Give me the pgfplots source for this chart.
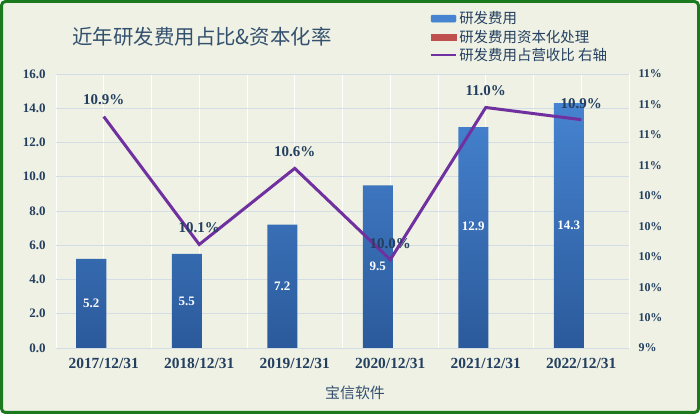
\documentclass[border=0pt]{standalone}
\usepackage{pgfplots}
\pgfplotsset{compat=1.18}
\usepackage{fontspec}
\setmainfont{Liberation Serif}
\newfontfamily\cjk{Noto Sans CJK SC}
\definecolor{bg}{HTML}{EEF1E3}
\definecolor{frame}{HTML}{1B7A1E}
\definecolor{navy}{HTML}{243F60}
\definecolor{titlec}{HTML}{34506F}
\definecolor{gridc}{HTML}{D3DDE5}
\definecolor{bartop}{HTML}{4683D0}
\definecolor{barbot}{HTML}{2B5A9B}
\definecolor{lineC}{HTML}{7030A0}
\definecolor{redC}{HTML}{C0504D}
\begin{document}
\begin{tikzpicture}
\useasboundingbox (0,0) rectangle (700bp,414bp);
\fill[bg, rounded corners=5bp] (0,0) rectangle (700bp,414bp);
\draw[frame, line width=3bp, rounded corners=4bp] (1.5bp,1.5bp) rectangle (698.5bp,412.5bp);
\node[anchor=west, text=titlec, font=\cjk\fontsize{20.5}{23}\selectfont] at (69bp,377bp) {近年研发费用占比\&资本化率};
\node[text=titlec, font=\cjk\fontsize{15}{17}\selectfont] at (355bp,21bp) {宝信软件};
\begin{axis}[
  at={(56bp,66bp)}, anchor=south west, scale only axis,
  width=573bp, height=274bp,
  xmin=-0.5, xmax=5.5, ymin=0, ymax=16,
  ytick={0,2,...,16},
  xtick={0,1,2,3,4,5},
  xticklabels={2017/12/31,2018/12/31,2019/12/31,2020/12/31,2021/12/31,2022/12/31},
  minor xtick={-0.5,0.5,1.5,2.5,3.5,4.5,5.5},
  xmajorgrids, xminorgrids, ymajorgrids,
  major grid style={gridc, line width=0.8bp},
  minor grid style={gridc, line width=0.8bp},
  x grid style={white, line width=0.9bp},
  axis line style={draw=none},
  major tick length=0pt, minor tick length=0pt,
  yticklabel style={font=\bfseries\fontsize{13}{13}\selectfont, text=navy, xshift=-7bp},
  xticklabel style={font=\bfseries\fontsize{15.5}{15.5}\selectfont, text=navy, yshift=-7bp},
  /pgf/number format/.cd, fixed, fixed zerofill, precision=1, assume math mode=true,
]
\addplot[ybar, bar width=30bp, bar shift=-12.5bp, draw=none, top color=bartop, bottom color=barbot]
  coordinates {(0,5.2) (1,5.5) (2,7.2) (3,9.5) (4,12.9) (5,14.3)};
\addplot[draw=none, mark=none, nodes near coords, point meta=explicit symbolic,
  nodes near coords style={anchor=center, xshift=-12.5bp, text=white, font=\bfseries\fontsize{13}{13}\selectfont}]
  coordinates {(0,2.6)[5.2] (1,2.75)[5.5] (2,3.6)[7.2] (3,4.75)[9.5] (4,7.1)[12.9] (5,7.15)[14.3]};
\end{axis}
\begin{axis}[
  at={(56bp,66bp)}, anchor=south west, scale only axis,
  width=573bp, height=274bp,
  xmin=-0.5, xmax=5.5, ymin=9.4, ymax=11.2,
  axis y line*=right, axis x line=none,
  axis line style={draw=none},
  major tick length=0pt,
  ytick={9.4,9.6,9.8,10.0,10.2,10.4,10.6,10.8,11.0,11.2},
  yticklabels={9\%,10\%,10\%,10\%,10\%,10\%,11\%,11\%,11\%,11\%},
  yticklabel style={font=\bfseries\fontsize{12}{12}\selectfont, text=navy, xshift=6bp},
  legend style={at={(rel axis cs:0.652,1.235)}, anchor=north west, draw=none, fill=none,
    font=\cjk\fontsize{14.5}{17}\selectfont, text=navy, row sep=0.5bp, inner sep=0pt,
    legend cell align=left},
]
\addlegendimage{legend image code/.code={\fill[bartop, rounded corners=1bp] (0bp,-3.5bp) rectangle (25bp,3.5bp);}}
\addlegendentry{研发费用}
\addlegendimage{legend image code/.code={\fill[redC] (0bp,-3bp) rectangle (25bp,3bp);}}
\addlegendentry{研发费用资本化处理}
\addplot[lineC, line width=3bp, mark=none, nodes near coords, point meta=explicit symbolic,
  legend image code/.code={\draw[lineC, line width=2.5bp] (0bp,0bp) -- (25bp,0bp);},
  nodes near coords style={anchor=center, yshift=16.5bp, text=navy, font=\bfseries\fontsize{15}{15}\selectfont}]
  coordinates {(0,10.92)[10.9\%] (1,10.08)[10.1\%] (2,10.58)[10.6\%] (3,9.98)[10.0\%] (4,10.98)[11.0\%] (5,10.90)[10.9\%]};
\addlegendentry{研发费用占营收比 右轴}
\end{axis}
\end{tikzpicture}
\end{document}
